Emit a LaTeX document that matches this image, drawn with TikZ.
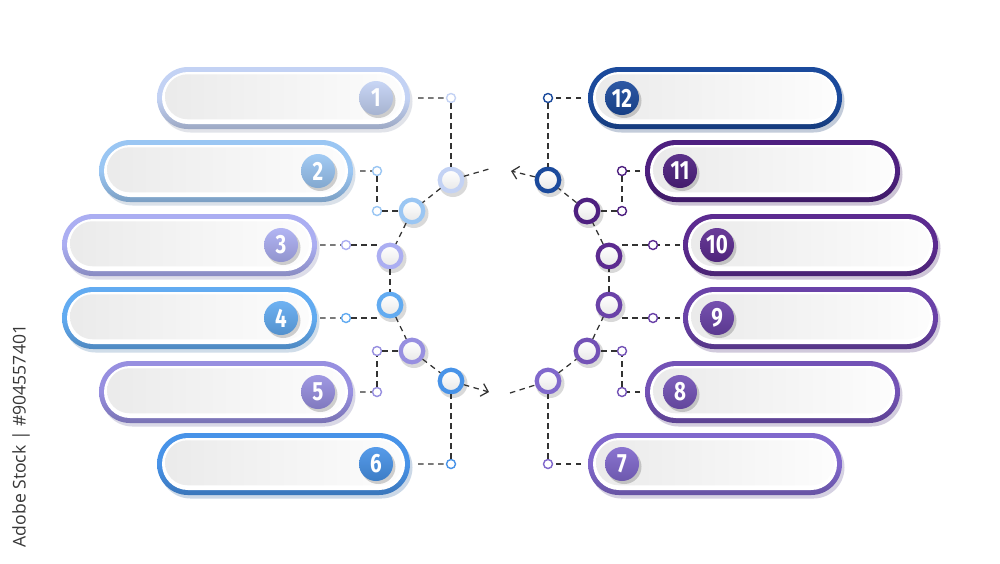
\documentclass[tikz,border=0pt]{standalone}
\usepackage{fontspec}
\setmainfont{Fira Sans}
\newfontfamily\wmfont{Open Sans}
\usetikzlibrary{shapes.misc,arrows.meta}
\definecolor{c1}{HTML}{C3D2F4}
\definecolor{c2}{HTML}{9AC6F3}
\definecolor{c3}{HTML}{ABAEF2}
\definecolor{c4}{HTML}{62ABF1}
\definecolor{c5}{HTML}{978FE0}
\definecolor{c6}{HTML}{4893E8}
\definecolor{c12}{HTML}{1B4A9C}
\definecolor{c11}{HTML}{4E2080}
\definecolor{c10}{HTML}{5C2B90}
\definecolor{c9}{HTML}{6A42A8}
\definecolor{c8}{HTML}{7352B6}
\definecolor{c7}{HTML}{8068CC}
\definecolor{dashc}{HTML}{333333}
\tikzset{
  pillshape/.style={rounded rectangle, inner sep=0pt, outer sep=0pt, minimum height=12.4mm},
  badge/.style={circle, inner sep=0pt, minimum size=6.8mm, text=white,
    font=\fontsize{15}{15}\selectfont\bfseries},
  ring/.style={circle, draw=#1, line width=0.85mm, top color=white, bottom color=black!9, minimum size=4.5mm, inner sep=0pt},
  smallc/.style={circle, draw=#1, line width=0.28mm, fill=white, minimum size=1.8mm, inner sep=0pt},
  dsh/.style={draw=dashc, line width=0.25mm, dash pattern=on 1.1mm off 0.9mm},
  arr/.style={dsh, -{Straight Barb[length=1.3mm,width=2.6mm]}},
}
\newcommand\numtxt[1]{\scalebox{0.78}[1]{#1}}
% name, cx, cy, width(px), colour, number, badge x
\newcommand\pill[7]{%
  \node[pillshape, fill=#5!70!black, opacity=.25, minimum width=#4*0.2mm] at ([xshift=0.5mm,yshift=-0.7mm]#2,#3) {};
  \node[pillshape, top color=#5, bottom color=#5!80!black, middle color=#5, minimum width=#4*0.2mm] (#1) at (#2,#3) {};
  \node[pillshape, fill=white, minimum width=(#4-10)*0.2mm, minimum height=10.4mm] at (#2,#3) {};
  \node[pillshape, left color=black!8, right color=black!1, minimum width=(#4-16)*0.2mm, minimum height=9.0mm] at ([yshift=0.25mm]#2,#3) {};
  \fill[black, opacity=.18] ([xshift=0.45mm,yshift=-0.55mm]#7,#3) circle (3.45mm);
  \node[badge, top color=#5!92!white, bottom color=#5!85!black] (#1b) at (#7,#3) {\numtxt{#6}};
}
\begin{document}
\begin{tikzpicture}[x=0.2mm,y=-0.2mm]
\useasboundingbox (0,0) rectangle (1000,563);
\fill[white] (0,0) rectangle (1000,563);

% watermark text at left edge
\node[rotate=90, text=black!78, font=\wmfont\fontsize{10}{10}\selectfont] (wm) at (21,436) {Adobe Stock | \#904557401};

% pills left
\pill{P1}{283.5}{98}{253}{c1}{1}{376}
\pill{P2}{226}{171}{254}{c2}{2}{318}
\pill{P3}{189.5}{245}{255}{c3}{3}{281}
\pill{P4}{189.5}{318}{255}{c4}{4}{281}
\pill{P5}{226}{392}{254}{c5}{5}{318}
\pill{P6}{283.5}{464}{253}{c6}{6}{376}
% pills right
\pill{P12}{715}{98}{254}{c12}{12}{622}
\pill{P11}{772.5}{171}{255}{c11}{11}{680}
\pill{P10}{810.5}{245}{255}{c10}{10}{717}
\pill{P9}{810.5}{318}{255}{c9}{9}{717}
\pill{P8}{772.5}{392}{255}{c8}{8}{680}
\pill{P7}{715}{464}{254}{c7}{7}{622}

% ring shadows
\foreach \x/\y in {451/180,412/211,390/256,390/305,412/351,451/381,548/180,587/211,609/256,609/305,587/351,548/381}
  \fill[black, opacity=.15] ([xshift=0.4mm,yshift=-0.5mm]\x,\y) circle (2.9mm);

% rings
\node[ring=c1] (L1) at (451,180) {};
\node[ring=c2] (L2) at (412,211) {};
\node[ring=c3] (L3) at (390,256) {};
\node[ring=c4] (L4) at (390,305) {};
\node[ring=c5] (L5) at (412,351) {};
\node[ring=c6] (L6) at (451,381) {};
\node[ring=c12] (R12) at (548,180) {};
\node[ring=c11] (R11) at (587,211) {};
\node[ring=c10] (R10) at (609,256) {};
\node[ring=c9] (R9) at (609,305) {};
\node[ring=c8] (R8) at (587,351) {};
\node[ring=c7] (R7) at (548,381) {};

% small circles
\node[smallc=c1] (s1) at (451,98) {};
\node[smallc=c2] (s2a) at (377,171) {};
\node[smallc=c2] (s2b) at (377,211) {};
\node[smallc=c3] (s3) at (346,245) {};
\node[smallc=c4] (s4) at (346,318) {};
\node[smallc=c5] (s5a) at (377,351) {};
\node[smallc=c5] (s5b) at (377,392) {};
\node[smallc=c6] (s6) at (451,464) {};
\node[smallc=c12] (t12) at (548,98) {};
\node[smallc=c11] (t11a) at (622,171) {};
\node[smallc=c11] (t11b) at (622,211) {};
\node[smallc=c10] (t10) at (653,245) {};
\node[smallc=c9] (t9) at (653,318) {};
\node[smallc=c8] (t8a) at (622,351) {};
\node[smallc=c8] (t8b) at (622,392) {};
\node[smallc=c7] (t7) at (548,464) {};

\coordinate (a1) at (489,169);
\coordinate (a2) at (511,171);
\coordinate (b1) at (489,392);
\coordinate (b2) at (510,393);

% connectors left
\draw[dsh, shorten <=1.6mm] (P1) -- (s1);
\draw[dsh] (s1) -- (L1);
\draw[dsh, shorten <=1.4mm] (P2) -- (s2a);
\draw[dsh] (s2a) -- (s2b);
\draw[dsh] (s2b) -- (L2);
\draw[dsh, shorten <=0.6mm] (P3) -- (s3);
\draw[dsh] (s3) -- (s3 -| L3.west);
\draw[dsh, shorten <=0.6mm] (P4) -- (s4);
\draw[dsh] (s4) -- (s4 -| L4.west);
\draw[dsh, shorten <=1.4mm] (P5) -- (s5b);
\draw[dsh] (s5b) -- (s5a);
\draw[dsh] (s5a) -- (L5);
\draw[dsh, shorten <=1.6mm] (P6) -- (s6);
\draw[dsh] (s6) -- (L6);
% connectors right
\draw[dsh, shorten <=1.4mm] (P12) -- (t12);
\draw[dsh] (t12) -- (R12);
\draw[dsh, shorten <=1.0mm] (P11) -- (t11a);
\draw[dsh] (t11a) -- (t11b);
\draw[dsh] (t11b) -- (R11);
\draw[dsh, shorten <=0.6mm] (P10) -- (t10);
\draw[dsh] (t10) -- (t10 -| R10.east);
\draw[dsh, shorten <=0.6mm] (P9) -- (t9);
\draw[dsh] (t9) -- (t9 -| R9.east);
\draw[dsh, shorten <=1.0mm] (P8) -- (t8b);
\draw[dsh] (t8b) -- (t8a);
\draw[dsh] (t8a) -- (R8);
\draw[dsh, shorten <=1.4mm] (P7) -- (t7);
\draw[dsh] (t7) -- (R7);

% cycle
\draw[dsh] (L1) -- (L2);
\draw[dsh] (L2) -- (L3);
\draw[dsh] (L3) -- (L4);
\draw[dsh] (L4) -- (L5);
\draw[dsh] (L5) -- (L6);
\draw[dsh] (R7) -- (R8);
\draw[dsh] (R8) -- (R9);
\draw[dsh] (R9) -- (R10);
\draw[dsh] (R10) -- (R11);
\draw[dsh] (R11) -- (R12);
\draw[dsh] (L1) -- (a1);
\draw[arr] (R12) -- (a2);
\draw[arr] (L6) -- (b1);
\draw[dsh] (b2) -- (R7);
\end{tikzpicture}
\end{document}
